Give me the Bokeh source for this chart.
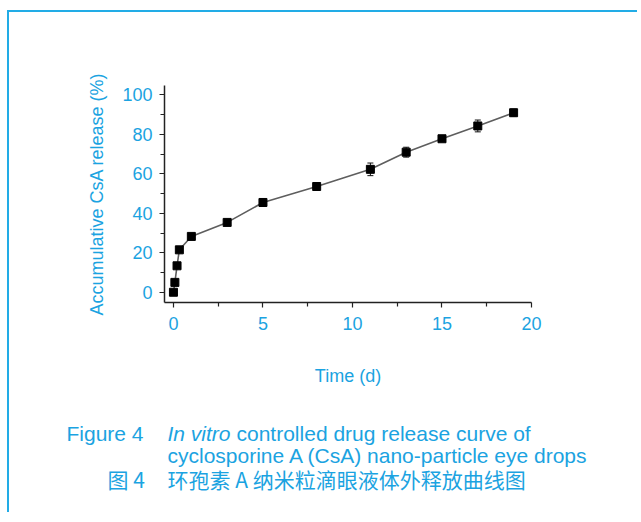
from bokeh.plotting import figure
from bokeh.models import Whisker, TeeHead, ColumnDataSource, FixedTicker, Range1d
from bokeh.core.properties import value
from bokeh.embed import file_html
from bokeh.resources import INLINE

# ---- data ----
times = [0, 0.08, 0.2, 0.33, 1, 3, 5, 8, 11, 13, 15, 17, 19]
release = [0, 5.0, 13.4, 21.5, 28.3, 35.4, 45.5, 53.6, 62.3, 71.0, 77.8, 84.3, 91.0]
err = [0.5, 0.8, 1.0, 1.5, 0.8, 0.8, 2.0, 1.2, 3.2, 2.5, 0.8, 3.0, 1.8]
x_ticks = [0, 5, 10, 15, 20]
y_ticks = [0, 20, 40, 60, 80, 100]

BLUE = "#1BA3E1"
FRAME = "2px solid #22ACE6"
FONT = "Liberation Sans"
CJK = "Noto Sans CJK SC"

src = ColumnDataSource(dict(
    t=times, r=release,
    lo=[r - e for r, e in zip(release, err)],
    hi=[r + e for r, e in zip(release, err)],
))

W = 630
H1 = 388
ML, MR, MT, MB = 155, 108, 73, 98

p = figure(width=W, height=H1, output_backend="svg", toolbar_location=None,
           x_range=(-0.5, 20), y_range=(-5.2, 104.8),
           min_border_left=ML, min_border_right=MR,
           min_border_top=MT, min_border_bottom=MB,
           background_fill_color="white", border_fill_color="white",
           outline_line_color=None,
           styles={"border-left": FRAME, "border-top": FRAME,
                   "margin-top": "10px", "margin-left": "7px"})
p.xgrid.visible = False
p.ygrid.visible = False

p.line("t", "r", source=src, line_color="#5e5e5e", line_width=1.6)
p.add_layout(Whisker(source=src, base="t", lower="lo", upper="hi",
                     line_color="#111111", line_width=1,
                     upper_head=TeeHead(size=6, line_color="#111111", line_width=1),
                     lower_head=TeeHead(size=6, line_color="#111111", line_width=1)))
p.scatter("t", "r", source=src, marker="square", size=8,
          fill_color="black", line_color="black")

for ax in (p.xaxis[0], p.yaxis[0]):
    ax.axis_line_color = "#222222"
    ax.axis_line_width = 1.5
    ax.major_tick_line_color = "#222222"
    ax.minor_tick_line_color = "#222222"
    ax.major_tick_line_width = 1.2
    ax.minor_tick_line_width = 1.2
    ax.major_tick_in = 0
    ax.minor_tick_in = 0
    ax.major_tick_out = 5
    ax.minor_tick_out = 4
    ax.major_label_text_color = BLUE
    ax.major_label_text_font = FONT
    ax.major_label_text_font_size = "18px"
    ax.axis_label_text_color = BLUE
    ax.axis_label_text_font = FONT
    ax.axis_label_text_font_size = "18px"
    ax.axis_label_text_font_style = "normal"

p.xaxis.ticker = FixedTicker(ticks=x_ticks, minor_ticks=[2.5, 7.5, 12.5, 17.5])
p.yaxis.ticker = FixedTicker(ticks=y_ticks, minor_ticks=[10, 30, 50, 70, 90])
p.xaxis.axis_label = "Time (d)"
p.yaxis.axis_label = "Accumulative CsA release (%)"
p.xaxis.major_label_standoff = 9
p.yaxis.major_label_standoff = 7
p.xaxis.axis_label_standoff = 33
p.yaxis.axis_label_standoff = 12

# ---- caption panel (pixel coordinates, y downwards) ----
H2 = 114
c = figure(width=W, height=H2, output_backend="svg", toolbar_location=None,
           x_range=Range1d(0, W), y_range=Range1d(H2, 0),
           min_border=0, outline_line_color=None,
           background_fill_color="white", border_fill_color="white",
           styles={"border-left": FRAME, "margin-left": "7px"})
c.axis.visible = False
c.grid.visible = False

TOP = 12 + H1   # nominal page y of caption panel top
LEFT = 9        # page x of canvas left


def cap(text, px, py, style="normal", font=FONT, size="21px"):
    c.text(x=[px - LEFT], y=[py - TOP], text=[text], text_color=BLUE,
           text_font=value(font), text_font_size=size, text_font_style=style,
           text_baseline="alphabetic", text_align="left")


cap("Figure 4", 66, 435)
cap("In vitro", 167, 435, style="italic")
cap("controlled drug release curve of", 236, 435)
cap("cyclosporine A (CsA) nano-particle eye drops", 167, 457)
cap("图 4", 107, 480, font=CJK, size="21px")
cap("环孢素 A 纳米粒滴眼液体外释放曲线图", 167, 480, font=CJK, size="21px")

open("out.html", "w").write(file_html([p, c], INLINE))
